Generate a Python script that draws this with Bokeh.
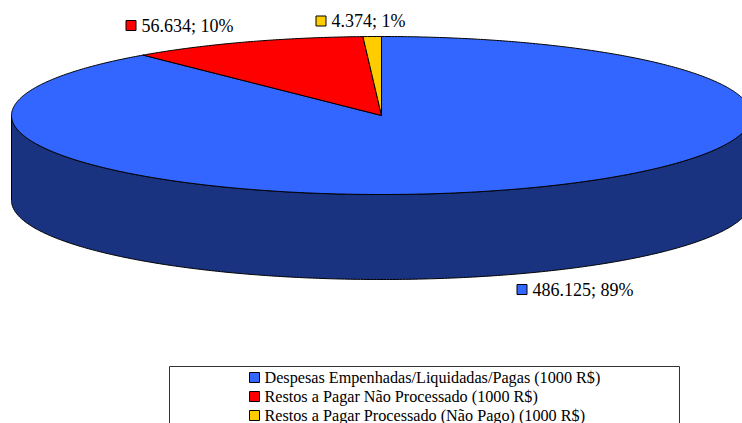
import numpy as np
from bokeh.plotting import figure
from bokeh.models import Range1d
from bokeh.core.properties import value
from bokeh.embed import file_html
from bokeh.resources import INLINE

# Budget execution (values in thousands of R$)
categories = [
    "Despesas Empenhadas/Liquidadas/Pagas (1000 R$)",
    "Restos a Pagar Não Processado (1000 R$)",
    "Restos a Pagar Processado (Não Pago) (1000 R$)",
]
amounts = [486125, 56634, 4374]
top_colors = ["#3366FF", "#FF0000", "#FFCC00"]
side_colors = ["#1A3380", "#800000", "#806600"]

FONT = "Times New Roman"

W, H = 742, 423
p = figure(width=W, height=H, x_range=Range1d(0, W), y_range=Range1d(H, 0),
           output_backend="svg", toolbar_location=None, min_border=0)
p.axis.visible = False
p.grid.visible = False
p.outline_line_color = None
p.background_fill_color = "white"
p.border_fill_color = "white"

# 3-D pie geometry (screen units, y grows downward)
cx, cy, rx, ry, depth = 381.0, 115.0, 370.0, 79.0, 85.0


def arc(a0, a1, dy=0.0, n=None):
    if n is None:
        n = max(4, int(abs(a1 - a0) * 2))
    t = np.radians(np.linspace(a0, a1, n))
    return list(cx + rx * np.cos(t)), list(cy + dy - ry * np.sin(t))


total = float(sum(amounts))
fracs = [a / total for a in amounts]
starts, ends = [], []
ang = 90.0
for f in fracs:
    starts.append(ang)
    ends.append(ang - 360.0 * f)
    ang -= 360.0 * f

# side walls: only the front half (180..360 deg) is visible
side_xs, side_ys, side_fill = [], [], []
for s, e, c in zip(starts, ends, side_colors):
    for k in (-360.0, 0.0, 360.0):
        lo = max(e + k, -180.0)
        hi = min(s + k, 0.0)
        if hi - lo > 1e-6:
            tx, ty = arc(lo, hi)
            bx, by = arc(hi, lo, dy=depth)
            side_xs.append(tx + bx)
            side_ys.append(ty + by)
            side_fill.append(c)
p.patches(side_xs, side_ys, fill_color=side_fill, line_color="black", line_width=1)

# top faces
top_xs, top_ys = [], []
for s, e in zip(starts, ends):
    ax, ay = arc(s, e)
    top_xs.append([cx] + ax)
    top_ys.append([cy] + ay)
p.patches(top_xs, top_ys, fill_color=top_colors, line_color="black", line_width=1)

# data labels: "value; percent"
labels = []
for a, f in zip(amounts, fracs):
    labels.append(f"{a:,}".replace(",", ".") + f"; {round(100 * f)}%")
label_x = [532, 141, 331]
label_y = [289, 25, 20.5]
p.rect([x - 10.5 for x in label_x], label_y, width=10, height=10,
       fill_color=top_colors, line_color="black", line_width=1)
p.text(label_x, label_y, text=labels, text_align="left", text_baseline="middle",
       text_font=value(FONT), text_font_size=value("18px"),
       text_color="black")

# legend box
p.quad(left=[169], right=[679], top=[366], bottom=[440],
       fill_color="white", line_color="#333333", line_width=1)
leg_y = [377, 396, 415]
p.rect([254] * 3, leg_y, width=10, height=10,
       fill_color=top_colors, line_color="black", line_width=1)
p.text([264] * 3, leg_y, text=categories, text_align="left", text_baseline="middle",
       text_font=value(FONT), text_font_size=value("16.2px"),
       text_color="black")

open("out.html", "w").write(file_html(p, INLINE))
